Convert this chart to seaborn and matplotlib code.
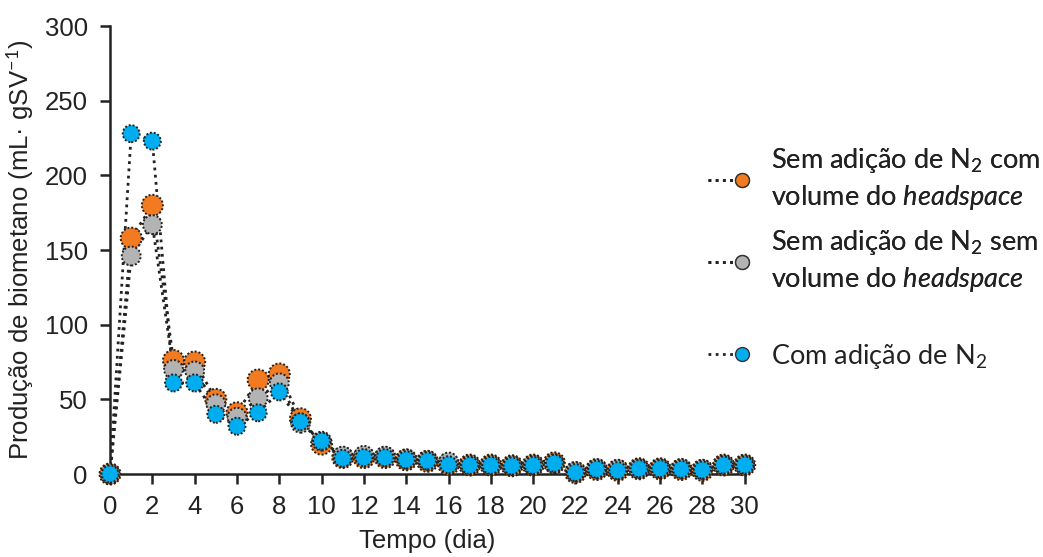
import matplotlib
matplotlib.use("Agg")
import matplotlib.pyplot as plt
from matplotlib.lines import Line2D
from matplotlib.legend_handler import HandlerLine2D
import seaborn as sns
import pandas as pd

# Daily biomethane production per treatment
days = list(range(31))
sem_n2_com_hs = [0, 158, 180, 76, 75, 50, 41, 63, 67, 37, 20, 11, 11, 11, 9.5, 8.5,
                 6.5, 6, 6, 5.5, 6, 7.5, 1, 3, 2.5, 3.5, 3.5, 3, 2.5, 6, 6]
sem_n2_sem_hs = [0, 146, 167, 70, 69, 47, 38, 51, 61, 34, 22, 12, 12.5, 12, 10, 9,
                 8, 6, 6, 5.5, 6, 7, 1.5, 3.5, 3, 3.5, 3.5, 3.5, 3, 6, 6]
com_n2 = [0, 228, 223, 61, 61, 40, 32, 41, 55, 35, 22, 10.5, 11, 11, 9.5, 8.8,
          6.2, 5.8, 5.8, 5.4, 5.8, 7.2, 1, 3.2, 2.3, 3.6, 3.6, 3.2, 2.7, 6, 6]

labels = [
    "Sem adição de N$_2$ com\nvolume do $\\it{headspace}$",
    "Sem adição de N$_2$ sem\nvolume do $\\it{headspace}$",
    "Com adição de N$_2$",
]
colors = ["#F27B21", "#B3B3B3", "#00AEEF"]
sizes = [230, 185, 150]
series = [sem_n2_com_hs, sem_n2_sem_hs, com_n2]

sns.set_theme(style="ticks")
plt.rcParams["font.family"] = ["Liberation Sans", "DejaVu Sans"]
plt.rcParams["mathtext.fontset"] = "custom"
plt.rcParams["mathtext.rm"] = "Lato"
plt.rcParams["mathtext.it"] = "Lato:italic"

fig = plt.figure(figsize=(10.43, 5.57), dpi=100)
ax = fig.add_axes([0.1055, 0.149, 0.6085, 0.804])

dot_line = (0, (1, 1.6))
for vals, col, s in zip(series, colors, sizes):
    df = pd.DataFrame({"dia": days, "valor": vals})
    sns.lineplot(data=df, x="dia", y="valor", ax=ax, color="#222222",
                 linestyle=dot_line, linewidth=2.0, zorder=2)
    sns.scatterplot(data=df, x="dia", y="valor", ax=ax, color=col, s=s,
                    edgecolor="#222222", linewidth=1.4, linestyle=(0, (1, 1)),
                    zorder=3, clip_on=False)

ax.set_xlim(0, 30)
ax.set_ylim(0, 300)
ax.set_xticks(range(0, 31, 2))
ax.set_yticks(range(0, 301, 50))
for sp in ["top", "right"]:
    ax.spines[sp].set_visible(False)
for sp in ["left", "bottom"]:
    ax.spines[sp].set_linewidth(1.8)
    ax.spines[sp].set_color("#222222")
ax.tick_params(axis="both", labelsize=18.5, width=1.8, length=7,
               color="#222222", labelcolor="#222222")
ax.tick_params(axis="y", pad=9)
ax.tick_params(axis="x", pad=8)
ax.set_xlabel("Tempo (dia)", fontsize=18.5, color="#222222", labelpad=7)
ax.set_ylabel("Produção de biometano (mL· gSV$^{-1}$)", fontsize=18.5,
              color="#222222", labelpad=6)


class EndMarkerHandler(HandlerLine2D):
    """Dotted stub with the marker sitting at its right end."""

    def create_artists(self, legend, orig_handle, xdescent, ydescent,
                       width, height, fontsize, trans):
        y = (height - ydescent) / 2
        x0, x1 = -xdescent, width - xdescent
        line = Line2D([x0, x1], [y, y])
        self.update_prop(line, orig_handle, legend)
        line.set_marker("None")
        mk = Line2D([x1], [y])
        self.update_prop(mk, orig_handle, legend)
        mk.set_linestyle("None")
        line.set_transform(trans)
        mk.set_transform(trans)
        return [line, mk]


def handle(col):
    return Line2D([], [], color="#222222", linestyle=(0, (1, 1.6)), linewidth=2,
                  marker="o", markersize=10, markerfacecolor=col,
                  markeredgecolor="#333333", markeredgewidth=1)


leg_kw = dict(frameon=False, prop={"family": "Lato", "size": 19.5},
              handlelength=1.26, handletextpad=1.1, borderaxespad=0,
              labelcolor="#222222", handler_map={Line2D: EndMarkerHandler()})
leg1 = fig.legend([handle(colors[0]), handle(colors[1])], labels[:2],
                  loc="upper left", bbox_to_anchor=(0.668, 0.757),
                  labelspacing=0.6, **leg_kw)
for t in leg1.get_texts():
    t.set_linespacing(1.35)
fig.add_artist(leg1)
fig.legend([handle(colors[2])], labels[2:], loc="upper left",
           bbox_to_anchor=(0.668, 0.406), **leg_kw)

fig.savefig("out.png", dpi=100)
